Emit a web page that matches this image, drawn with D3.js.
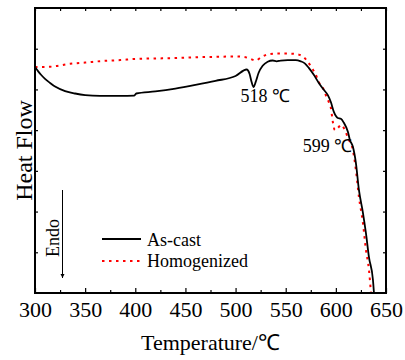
<!doctype html>
<html>
<head>
    <meta charset="UTF-8">
    <title>DSC</title>
    <script src="https://d3js.org/d3.v7.min.js"></script>
    <style>
        body { margin: 0; background: #fff; }
        svg text { font-family: "Liberation Serif", "Times New Roman", serif !important; fill: #000; }
    </style>
</head>
<body>
    <svg id="chart" width="405" height="360"></svg>

    <script>
        // temperature (C) for each series
        var castT = [300, 303, 306, 310, 315, 320, 330, 340, 350, 365, 385, 399, 401, 420, 440, 460, 480, 500, 511, 514, 516, 518, 520, 523, 527, 532, 537, 541, 545, 552, 560, 565, 569, 573, 578, 583, 588, 592, 595, 598, 602, 605, 608, 612, 614, 617, 620, 623, 627, 630, 633, 637, 638];
        var castHF = [5.55, 5.45, 5.36, 5.26, 5.16, 5.07, 4.96, 4.90, 4.86, 4.84, 4.84, 4.85, 4.90, 4.95, 5.02, 5.11, 5.21, 5.33, 5.49, 5.38, 5.18, 5.06, 5.18, 5.41, 5.58, 5.68, 5.71, 5.69, 5.71, 5.72, 5.72, 5.69, 5.64, 5.53, 5.36, 5.16, 4.99, 4.86, 4.69, 4.45, 4.30, 4.28, 4.18, 3.96, 3.76, 3.59, 3.19, 2.53, 1.97, 1.47, 0.88, 0.32, 0];

        var homoT = [300, 310, 320, 335, 350, 368, 385, 400, 420, 440, 460, 480, 500, 510, 515, 520, 526, 532, 540, 550, 560, 567, 572, 576, 580, 583, 587, 590, 593, 595, 597, 599, 602, 605, 608, 611, 613, 617, 620, 623, 627, 630, 633, 635];
        var homoHF = [5.55, 5.55, 5.57, 5.63, 5.66, 5.70, 5.72, 5.75, 5.76, 5.77, 5.79, 5.80, 5.81, 5.79, 5.75, 5.71, 5.80, 5.86, 5.88, 5.88, 5.87, 5.81, 5.68, 5.53, 5.36, 5.18, 5.04, 4.86, 4.69, 4.55, 4.20, 4.00, 4.05, 4.13, 4.05, 3.88, 3.76, 3.51, 3.02, 2.36, 1.72, 1.06, 0.57, 0];

        var xMajor = [300, 350, 400, 450, 500, 550, 600, 650];
        var xMinor = [325, 375, 425, 475, 525, 575, 625];
        var yTicks = [1, 2, 3, 4, 5, 6];

        var seriesNames = ["As-cast", "Homogenized"];
        var peakT = [518, 599];
        var peakLabels = ["518 ℃", "599 ℃"];

        var pL = 35, pR = 386, pT = 8, pB = 293;

        var x = d3.scaleLinear().domain([300, 650]).range([pL, pR]);
        var y = d3.scaleLinear().domain([0, 7]).range([pB, pT]);

        var svg = d3.select("#chart");

        svg.append("clipPath").attr("id", "plot")
            .append("rect").attr("x", pL).attr("y", pT).attr("width", pR - pL).attr("height", pB - pT);

        // ticks
        var axB = svg.append("g").attr("transform", "translate(0," + pB + ")")
            .call(d3.axisBottom(x).tickValues(xMajor).tickSizeInner(-5).tickSizeOuter(0).tickPadding(8));
        axB.attr("font-family", null).attr("font-size", null);
        axB.selectAll("text").style("font-size", "22px");
        svg.append("g").attr("transform", "translate(0," + pB + ")")
            .call(d3.axisBottom(x).tickValues(xMinor).tickSizeInner(-3).tickSizeOuter(0).tickFormat(""));
        svg.append("g").attr("transform", "translate(0," + pT + ")")
            .call(d3.axisTop(x).tickValues(xMajor.concat(xMinor)).tickSizeInner(-3).tickSizeOuter(0).tickFormat(""));
        svg.append("g").attr("transform", "translate(" + pL + ",0)")
            .call(d3.axisLeft(y).tickValues(yTicks).tickSizeInner(-3).tickSizeOuter(0).tickFormat(""));
        svg.append("g").attr("transform", "translate(" + pR + ",0)")
            .call(d3.axisRight(y).tickValues(yTicks).tickSizeInner(-3).tickSizeOuter(0).tickFormat(""));
        svg.selectAll(".domain").remove();
        svg.selectAll(".tick line").attr("stroke", "#000").attr("stroke-width", 1.2);

        // curves
        var line = d3.line()
            .x(function(d){ return x(d[0]); })
            .y(function(d){ return y(d[1]); })
            .curve(d3.curveMonotoneX);

        var homoData = homoT.map(function(t, i){ return [t, homoHF[i]]; });
        var castData = castT.map(function(t, i){ return [t, castHF[i]]; });

        svg.append("path").datum(homoData)
            .attr("clip-path", "url(#plot)")
            .attr("d", line)
            .attr("fill", "none")
            .attr("stroke", "#ff0000")
            .attr("stroke-width", 2)
            .attr("stroke-dasharray", "2.5,4.5");

        svg.append("path").datum(castData)
            .attr("clip-path", "url(#plot)")
            .attr("d", line)
            .attr("fill", "none")
            .attr("stroke", "#000")
            .attr("stroke-width", 1.8);

        // frame
        svg.append("rect")
            .attr("x", pL).attr("y", pT)
            .attr("width", pR - pL).attr("height", pB - pT)
            .attr("fill", "none").attr("stroke", "#000").attr("stroke-width", 2);

        // peak labels
        svg.append("text").attr("x", x(peakT[0]) - 13).attr("y", 102)
            .style("font-size", "18px").text(peakLabels[0]);
        svg.append("text").attr("x", x(peakT[1]) - 32).attr("y", 152)
            .style("font-size", "18px").text(peakLabels[1]);

        // legend
        var legY = [239, 261];
        svg.append("line").attr("x1", 102).attr("x2", 141).attr("y1", legY[0]).attr("y2", legY[0])
            .attr("stroke", "#000").attr("stroke-width", 2);
        svg.append("line").attr("x1", 102).attr("x2", 141).attr("y1", legY[1]).attr("y2", legY[1])
            .attr("stroke", "#ff0000").attr("stroke-width", 2).attr("stroke-dasharray", "2.5,4.5");
        svg.append("text").attr("x", 147).attr("y", legY[0] + 7).style("font-size", "18px").text(seriesNames[0]);
        svg.append("text").attr("x", 147).attr("y", legY[1] + 6).style("font-size", "18px").text(seriesNames[1]);

        // endo arrow
        svg.append("defs").append("marker")
            .attr("id", "arr").attr("viewBox", "0 0 10 10")
            .attr("refX", 10).attr("refY", 5)
            .attr("markerWidth", 4).attr("markerHeight", 5)
            .attr("orient", "auto")
            .append("path").attr("d", "M0,0 L10,5 L0,10 z").attr("fill", "#000");
        svg.append("line").attr("x1", 62.5).attr("x2", 62.5).attr("y1", 190).attr("y2", 278)
            .attr("stroke", "#000").attr("stroke-width", 1)
            .attr("marker-end", "url(#arr)");
        svg.append("text")
            .attr("transform", "translate(59,238) rotate(-90)")
            .attr("text-anchor", "middle")
            .style("font-size", "18px").text("Endo");

        // axis titles
        svg.append("text").attr("x", (pL + pR) / 2).attr("y", 350)
            .attr("text-anchor", "middle").style("font-size", "22px").text("Temperature/℃");
        svg.append("text")
            .attr("transform", "translate(32," + ((pT + pB) / 2) + ") rotate(-90)")
            .attr("text-anchor", "middle").style("font-size", "24px").text("Heat Flow");
    </script>
</body>
</html>
